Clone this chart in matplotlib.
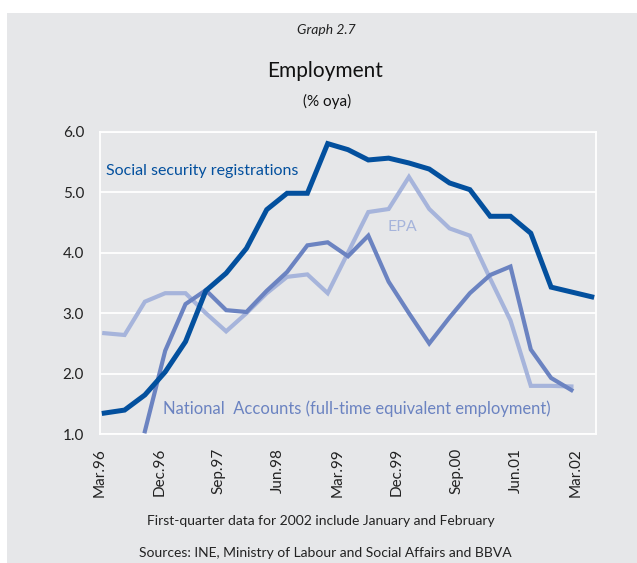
import numpy as np
import matplotlib
matplotlib.use("Agg")
import matplotlib.pyplot as plt
from matplotlib.patches import Rectangle

# quarterly growth, % oya, Mar.96 .. Mar.02
quarters = np.arange(25)
social_security = [1.35, 1.40, 1.65, 2.03, 2.53, 3.37, 3.66, 4.07, 4.71, 4.98, 4.98, 5.80,
                   5.70, 5.53, 5.56, 5.48, 5.38, 5.15, 5.04, 4.60, 4.60, 4.32, 3.43, 3.35, 3.27]
epa = [2.67, 2.64, 3.19, 3.33, 3.33, 3.00, 2.70, 3.00, 3.33, 3.60, 3.64, 3.33,
       4.00, 4.67, 4.72, 5.25, 4.72, 4.40, 4.28, 3.57, 2.88, 1.80, 1.80, 1.79]
national_accounts = [1.05, 2.38, 3.15, 3.38, 3.05, 3.02, 3.37, 3.68, 4.12, 4.17,
                     3.94, 4.28, 3.52, 3.00, 2.50, 2.93, 3.33, 3.63, 3.77, 2.40, 1.93, 1.73]
na_start = 2
tick_labels = ["Mar.96", "Dec.96", "Sep.97", "Jun.98", "Mar.99",
               "Dec.99", "Sep.00", "Jun.01", "Mar.02"]

BG = "#e6e7e9"
C_SS = "#03509e"
C_NA = "#6b83c1"
C_EPA = "#a6b4db"
FONT = ["Lato", "DejaVu Sans"]

fig = plt.figure(figsize=(6.37, 5.63), dpi=100)
fig.patches.append(Rectangle((7 / 637, 0), 1, 1 - 13 / 563, transform=fig.transFigure,
                             facecolor=BG, edgecolor="none", zorder=-1))

ax = fig.add_axes([100 / 637, (563 - 434.3) / 563, 496 / 637, 302.8 / 563])
ax.set_facecolor(BG)

ax.plot(quarters[:len(epa)], epa, color=C_EPA, lw=3.0, solid_joinstyle="miter", zorder=3)
ax.plot(quarters[na_start:na_start + len(national_accounts)], national_accounts,
        color=C_NA, lw=3.0, solid_joinstyle="miter", zorder=4)
ax.plot(quarters, social_security, color=C_SS, lw=3.6, solid_joinstyle="miter", zorder=5)

ax.set_xlim(-0.197, 24.21)
ax.set_ylim(1.0, 6.0)
ax.set_yticks(np.arange(1.0, 6.01, 1.0))
ax.set_yticklabels(["%.1f" % v for v in np.arange(1.0, 6.01, 1.0)])
# category labels sit a little off the data grid in the original
ax.set_xticks(np.arange(9) * 2.925 - 0.21)
ax.set_xticklabels(tick_labels, rotation=90)
ax.tick_params(length=0, labelsize=11, colors="#222222")
ax.tick_params(axis="y", pad=11.5)
ax.tick_params(axis="x", pad=10)
for lab in ax.get_xticklabels() + ax.get_yticklabels():
    lab.set_family(FONT)
ax.grid(axis="y", color="white", lw=1.3)
ax.set_axisbelow(True)
for s in ax.spines.values():
    s.set_color("white")
    s.set_linewidth(1.3)

ax.text(0.1, 5.35, "Social security registrations", color=C_SS, fontsize=11.5,
        family=FONT, va="center", ha="left")
ax.text(14.7, 4.43, "EPA", color=C_EPA, fontsize=11.5, family=FONT, va="center", ha="center")
ax.text(2.9, 1.43, "National  Accounts (full-time equivalent employment)", color=C_NA,
        fontsize=11.9, family=FONT, va="center", ha="left")

fig.text(0.513, 1 - 30 / 563, "Graph 2.7", ha="center", va="center", fontsize=10,
         style="italic", family=FONT, color="#222222")
fig.text(0.51, 1 - 71 / 563, "Employment", ha="center", va="center", fontsize=15,
         family=FONT, color="#111111")
fig.text(0.513, 1 - 101 / 563, "(% oya)", ha="center", va="center", fontsize=11,
         family=FONT, color="#111111")
fig.text(0.503, 1 - 521 / 563, "First-quarter data for 2002 include January and February",
         ha="center", va="center", fontsize=10, family=FONT, color="#222222")
fig.text(0.51, 1 - 553 / 563, "Sources: INE, Ministry of Labour and Social Affairs and BBVA",
         ha="center", va="center", fontsize=10, family=FONT, color="#222222")

fig.savefig("out.png", dpi=100, facecolor="white")
